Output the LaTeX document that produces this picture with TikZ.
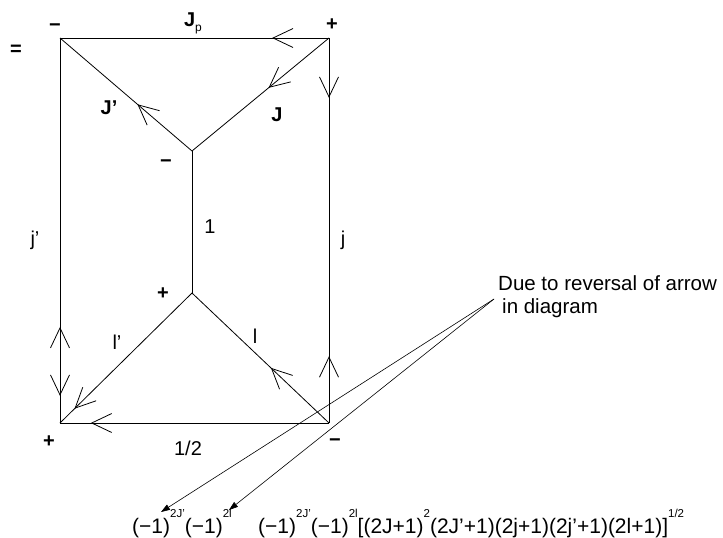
\documentclass[tikz,border=0pt]{standalone}
\usepackage{fontspec}
\setmainfont{Liberation Sans}
\usetikzlibrary{decorations.markings,arrows.meta}
\newcommand\supx[1]{\raisebox{16pt}{\fontsize{11.5pt}{12pt}\selectfont #1}}
\begin{document}
\begin{tikzpicture}[x=1pt,y=-1pt,
  edge/.style={line width=0.8pt},
  fw/.style={postaction={decorate,decoration={markings,mark=at position #1 with {\draw[line width=0.8pt] (-20pt,9.5pt) -- (0pt,0pt) -- (-20pt,-9.5pt);}}}},
  bw/.style={postaction={decorate,decoration={markings,mark=at position #1 with {\draw[line width=0.8pt] (20pt,9.5pt) -- (0pt,0pt) -- (20pt,-9.5pt);}}}},
  lbl/.style={anchor=base,inner sep=0pt,font=\fontsize{20pt}{23pt}\selectfont},
  blbl/.style={anchor=base,inner sep=0pt,font=\fontsize{20pt}{23pt}\selectfont\bfseries},
  txt/.style={anchor=base west,inner sep=0pt,font=\fontsize{20.5pt}{24pt}\selectfont},
  fml/.style={anchor=base west,inner sep=0pt,font=\fontsize{21pt}{24pt}\selectfont},
  note/.style={line width=0.6pt,-{Triangle[length=9pt,width=6pt]}}
]
\useasboundingbox (0,0) rectangle (723,538);
\coordinate (TL) at (60,38);
\coordinate (TR) at (329,38);
\coordinate (U) at (192,151);
\coordinate (L) at (192,293);
\coordinate (BL) at (60,423);
\coordinate (BR) at (329,423);

\draw[edge,fw=0.208] (TR) -- (TL);
\draw[edge,fw=0.436] (TR) -- (U);
\draw[edge,fw=0.408] (U) -- (TL);
\draw[edge] (U) -- (L);
\draw[edge,fw=0.153,bw=0.829] (TR) -- (BR);
\draw[edge,bw=0.753,fw=0.927] (TL) -- (BL);
\draw[edge,fw=0.885] (L) -- (BL);
\draw[edge,fw=0.882] (BR) -- (BL);
\draw[edge,fw=0.419] (BR) -- (L);

\node[blbl] (eq) at (16,55) {=};
\node[blbl] (mTL) at (55,31) {−};
\node[blbl] (pTR) at (332,30) {+};
\node[blbl] (Jp) at (193,27) {J\raisebox{-5pt}{\fontsize{12pt}{12pt}\selectfont\mdseries p}};
\node[blbl] (Jpr) at (109,114) {J’};
\node[blbl] (J) at (277,121) {J};
\node[blbl] (mU) at (166,167) {−};
\node[lbl] (one) at (210,233) {1};
\node[lbl] (jpr) at (35,245) {j’};
\node[lbl] (j) at (343,245) {j};
\node[blbl] (pL) at (163,299) {+};
\node[lbl] (lpr) at (117,349) {l’};
\node[lbl] (l) at (255,343) {l};
\node[blbl] (pBL) at (49,447) {+};
\node[lbl] (half) at (188,455) {1/2};
\node[blbl] (mBR) at (335,446) {−};

\node[txt] (due) at (498,290) {Due to reversal of arrow};
\node[txt] (indiag) at (502,313) {in diagram};

\node[fml] (f1) at (132,533) {(−1)\supx{2J’}(−1)\supx{2l}};
\node[fml] (f2) at (258,533) {(−1)\supx{2J’}(−1)\supx{2l}[(2J+1)\supx{2}(2J’+1)(2j+1)(2j’+1)(2l+1)]\supx{1/2}};

\coordinate (S) at (494,299);
\coordinate (tA) at (161,512);
\coordinate (tB) at (229,510);
\draw[note] (S) -- (tA);
\draw[note] (S) -- (tB);
\end{tikzpicture}
\end{document}
